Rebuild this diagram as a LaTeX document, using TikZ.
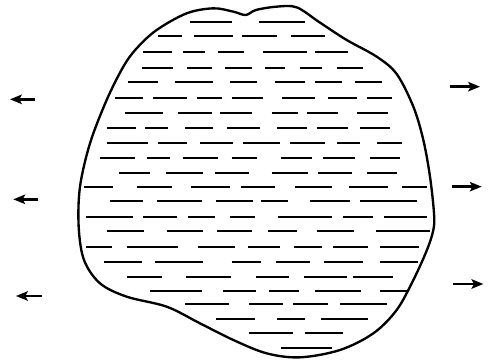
\documentclass[tikz,border=0pt]{standalone}
\usepackage{tikz}
\usetikzlibrary{arrows.meta}

\begin{document}
\begin{tikzpicture}[x=0.01cm,y=-0.01cm,
        outline/.style={line width=2pt, line join=round},
        streak/.style={line width=1.6pt},
        push/.style={line width=2pt, -{Stealth[length=10pt,width=8pt,inset=2pt]}}]
        \useasboundingbox (0,0) rectangle (1473,1086);

        % the drop
        \draw[outline] plot[smooth cycle, tension=0.55] coordinates {
            (410,145) (470,90) (560,40) (640,25) (700,35) (737,45) (768,30)
            (830,20) (890,22) (960,68) (1040,120) (1130,170) (1190,222)
            (1240,320) (1270,420) (1290,530) (1302,640) (1300,690) (1280,752)
            (1240,840) (1190,930) (1120,1000) (1020,1050) (900,1072) (800,1060)
            (700,1020) (600,970) (500,920) (380,890) (300,850) (252,780)
            (236,680) (240,560) (270,430) (320,300) (370,200)};

        % streaks inside
        \foreach \y/\xs in {
            65/{570/695,778/915},
            108/{475/545,582/700,725/830,873/975},
            155/{430/515,548/615,653/733,790/920,945/1045},
            203/{425/520,560/635,675/755,795/855,900/965,1010/1090},
            247/{383/475,525/640,690/770,825/915,945/1025,1065/1145},
            293/{345/430,460/560,592/665,695/790,845/945,985/1070,1100/1175},
            338/{375/490,535/635,660/755,815/895,920/1015,1070/1165},
            383/{322/408,435/505,555/640,680/780,832/920,950/1045,1080/1170},
            430/{320/445,475/560,600/700,730/840,870/975,1010/1080,1130/1205},
            475/{300/405,440/510,550/655,695/772,843/935,970/1065,1110/1200},
            520/{358/450,498/610,645/748,815/925,955/1055,1100/1190},
            560/{252/340,410/515,572/690,722/825,885/995,1048/1165,1205/1280},
            603/{330/430,470/605,648/760,782/865,930/1050,1080/1250},
            650/{258/398,428/530,565/645,690/765,835/995,1030/1120,1152/1280},
            692/{320/433,500/610,652/755,805/890,950/1062,1128/1290},
            742/{258/335,380/535,593/705,745/840,882/965,1000/1105,1140/1257},
            786/{312/425,465/610,695/782,828/930,972/1090,1140/1255},
            830/{380/485,558/692,768/868,912/1040,1060/1178},
            873/{450/605,668/768,808/898,945/1082,1140/1225},
            913/{555/688,747/850,880/985,1020/1160},
            957/{648/765,832/915,962/1105},
            1000/{748/880,915/1030},
            1043/{843/995}} {
            \foreach \a/\b in \xs
                \draw[streak] (\a,\y) -- (\b,\y);
        }

        % forces
        \coordinate (left1)  at (105,298);  \coordinate (left1tip)  at (30,298);
        \coordinate (left2)  at (115,598);  \coordinate (left2tip)  at (40,598);
        \coordinate (left3)  at (125,888);  \coordinate (left3tip)  at (48,888);
        \coordinate (right1) at (1350,260); \coordinate (right1tip) at (1440,260);
        \coordinate (right2) at (1355,560); \coordinate (right2tip) at (1445,560);
        \coordinate (right3) at (1360,852); \coordinate (right3tip) at (1450,852);

        \foreach \s in {left1,left2,left3,right1,right2,right3}
            \draw[push] (\s) -- (\s tip);
\end{tikzpicture}
\end{document}
